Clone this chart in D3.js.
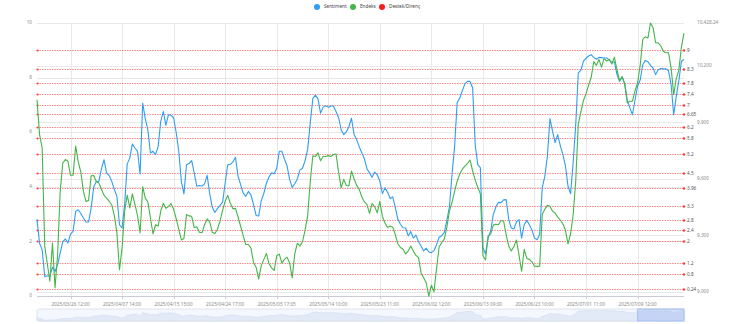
<!DOCTYPE html>
<html>
<head>
<meta charset="utf-8">
<script src="https://cdn.jsdelivr.net/npm/d3@7"></script>
<style>
  html, body { margin: 0; padding: 0; background: #ffffff; }
  svg { display: block; font-family: "Noto Sans", "DejaVu Sans", sans-serif; }
</style>
</head>
<body>
<svg id="chart" width="735" height="324"></svg>
<script>
// Sentiment score (left axis, 0–10), one value per bar of the category axis
const sentiment = [
  2.80,1.93,1.70,0.72,0.73,0.74,1.05,0.90,1.15,1.58,1.98,2.09,1.94,2.27,2.37,3.10,3.16,3.02,2.86,2.71,
  2.71,3.22,3.99,4.19,4.20,4.66,4.99,4.51,4.41,4.20,3.90,3.65,2.61,2.49,3.35,4.84,5.05,5.57,5.42,5.30,
  4.47,7.07,6.50,6.09,5.24,5.30,5.18,5.48,6.40,6.76,6.25,6.64,6.62,6.53,5.99,5.30,4.20,3.74,4.81,4.85,
  4.96,4.51,4.02,4.05,4.03,4.11,4.42,3.75,3.25,3.06,3.20,3.32,3.44,4.14,4.81,4.82,4.91,5.08,4.38,4.08,
  3.77,3.65,3.83,3.70,3.35,2.95,2.93,3.49,3.76,4.13,4.36,4.51,4.48,4.68,5.30,5.30,5.01,4.77,4.27,3.98,
  4.11,4.29,4.62,4.68,4.96,5.37,6.34,7.23,7.36,7.22,6.70,6.91,6.97,6.91,6.96,6.96,6.76,6.53,6.09,5.91,
  6.01,6.20,6.51,5.92,5.73,5.47,5.25,5.03,4.66,4.51,4.35,4.54,4.44,4.21,3.75,3.96,3.80,3.57,3.63,3.25,
  2.81,2.63,2.50,2.49,2.20,2.36,2.12,2.23,1.99,1.83,1.65,1.75,1.61,1.59,1.66,1.88,2.15,2.21,2.33,2.77,
  3.27,4.44,5.48,7.09,7.25,7.52,7.77,7.86,7.86,7.62,5.54,4.80,4.70,1.78,1.54,2.12,2.38,2.98,3.26,3.43,
  3.42,3.52,3.53,2.81,2.49,2.45,2.72,2.80,2.12,2.61,2.77,2.61,2.42,2.12,2.06,2.25,3.96,4.38,5.12,6.50,
  6.04,5.62,5.91,5.51,5.19,4.77,4.02,3.75,4.90,6.28,8.17,8.27,8.60,8.71,8.79,8.84,8.74,8.67,8.74,8.73,
  8.72,8.72,8.64,8.56,8.58,8.11,7.86,8.03,7.77,7.16,6.89,6.64,7.18,7.69,7.91,8.47,8.63,8.58,8.45,8.35,
  8.11,8.29,8.33,8.32,8.32,8.25,7.74,6.64,7.31,7.89,8.60,8.66
];

// Index level (right axis)
const endeks = [
  10021,9836,9765,9243,9149,9057,9260,9022,9198,9534,9685,9703,9694,9620,9620,9775,9691,9637,9534,9481,
  9485,9617,9618,9587,9578,9545,9513,9498,9482,9462,9405,9314,9118,9234,9429,9514,9446,9521,9465,9405,
  9313,9559,9498,9478,9394,9308,9357,9350,9429,9471,9444,9453,9469,9439,9389,9334,9276,9284,9411,9404,
  9402,9342,9346,9317,9314,9357,9388,9372,9317,9310,9333,9376,9433,9482,9513,9471,9442,9444,9398,9349,
  9298,9252,9252,9233,9157,9131,9069,9140,9173,9204,9150,9128,9115,9192,9201,9153,9173,9185,9154,9075,
  9202,9259,9244,9268,9328,9404,9585,9723,9719,9739,9697,9719,9719,9724,9719,9730,9733,9636,9553,9598,
  9565,9563,9642,9601,9566,9545,9505,9478,9465,9417,9469,9453,9420,9481,9401,9366,9342,9350,9344,9305,
  9255,9236,9227,9202,9217,9244,9217,9194,9182,9101,9075,9049,8978.6,9036,9001,9124,9239,9262,9281,9344,
  9429,9475,9534,9588,9627,9652,9668,9682,9701,9643,9594,9555,9521,9192,9170,9298,9307,9355,9360,9357,
  9378,9378,9305,9244,9218,9241,9276,9194,9110,9226,9178,9173,9160,9137,9136,9137,9411,9439,9460,9455,
  9429,9418,9398,9382,9362,9328,9255,9308,9410,9591,9893,9956,10017,10053,10098,10140,10223,10203,10235,10194,
  10239,10226,10236,10210,10246,10180,10122,10142,10106,10004,10013,10013,10068,10111,10204,10341,10355,10348,10428.24,10404,
  10323,10323,10306,10278,10270,10270,10190,10048,10133,10178,10301,10375
];

// Support / resistance levels on the sentiment scale
const levels = [9, 8.3, 7.8, 7.4, 7, 6.65, 6.2, 5.8, 5.2, 4.5, 3.96, 3.3, 2.8, 2.4, 2, 1.2, 0.8, 0.24];

// Category-axis labels and the category index each one sits on
const xTickIndex = [13, 33, 53, 73, 93, 113, 133, 153, 173, 193, 213, 233];
const xTickLabels = [
  "2025/03/26 12:00", "2025/04/07 14:00", "2025/04/15 15:00", "2025/04/24 17:00",
  "2025/05/05 17:05", "2025/05/14 10:00", "2025/05/23 11:00", "2025/06/02 12:00",
  "2025/06/13 09:00", "2025/06/23 10:00", "2025/07/01 11:00", "2025/07/09 12:00"
];
const leftTicks = [0, 2, 4, 6, 8, 10];
const rightTicks = [9000, 9300, 9600, 9900, 10200];

const legendItems = [
  { name: "Sentiment", color: "#2f9ef0" },
  { name: "Endeks", color: "#44b549" },
  { name: "Destek/Direnç", color: "#ff1a1a" }
];

const plot = { left: 37, right: 684, top: 23, bottom: 296 };
const svg = d3.select("#chart");

const x = d3.scaleLinear().domain([0, sentiment.length - 1]).range([plot.left, plot.right]);
const yL = d3.scaleLinear().domain([0, 10]).range([plot.bottom, plot.top]);
const yR = d3.scaleLinear().domain(d3.extent(endeks)).range([plot.bottom, plot.top]);
const snap = v => Math.round(v) + 0.5;

const gridColor = "#e8e8e8";
const labelColor = "#8c8c8c";
const fs = 4.7;

// horizontal split lines of both value axes
const grid = svg.append("g");
grid.selectAll("line.gl").data(leftTicks).join("line")
  .attr("x1", plot.left).attr("x2", plot.right)
  .attr("y1", d => snap(yL(d))).attr("y2", d => snap(yL(d)))
  .attr("stroke", gridColor).attr("stroke-width", 1);
grid.selectAll("line.gr").data(rightTicks.concat([yR.domain()[1]])).join("line")
  .attr("x1", plot.left).attr("x2", plot.right)
  .attr("y1", d => snap(yR(d))).attr("y2", d => snap(yR(d)))
  .attr("stroke", gridColor).attr("stroke-width", 1);
// vertical split lines at category labels
grid.selectAll("line.gx").data(xTickIndex).join("line")
  .attr("x1", d => snap(x(d))).attr("x2", d => snap(x(d)))
  .attr("y1", plot.top).attr("y2", plot.bottom)
  .attr("stroke", gridColor).attr("stroke-width", 1);

// left axis labels
svg.append("g").selectAll("text").data(leftTicks).join("text")
  .attr("x", plot.left - 5).attr("y", d => yL(d))
  .attr("text-anchor", "end").attr("dominant-baseline", "middle")
  .attr("font-size", fs).attr("fill", labelColor).text(d => d);

// right axis labels
const fmt = d3.format(",");
svg.append("g").selectAll("text").data(rightTicks.concat([yR.domain()[1]])).join("text")
  .attr("x", plot.right + 13).attr("y", d => yR(d))
  .attr("text-anchor", "start").attr("dominant-baseline", "middle")
  .attr("font-size", fs).attr("fill", labelColor)
  .text(d => d === yR.domain()[1] ? d3.format(",.2f")(d) : fmt(d));

// x axis line, ticks and labels
svg.append("line")
  .attr("x1", plot.left).attr("x2", plot.right)
  .attr("y1", plot.bottom + 0.5).attr("y2", plot.bottom + 0.5)
  .attr("stroke", "#c9ccd4").attr("stroke-width", 1);
svg.append("g").selectAll("line").data(xTickIndex).join("line")
  .attr("x1", d => snap(x(d))).attr("x2", d => snap(x(d)))
  .attr("y1", plot.bottom).attr("y2", plot.bottom + 3)
  .attr("stroke", "#c9ccd4");
svg.append("g").selectAll("text").data(xTickIndex).join("text")
  .attr("x", d => x(d)).attr("y", plot.bottom + 6)
  .attr("text-anchor", "middle").attr("dominant-baseline", "hanging")
  .attr("font-size", fs).attr("fill", labelColor)
  .text((d, i) => xTickLabels[i]);

// support / resistance mark lines
const red = "#ff3b3b";
const ml = svg.append("g");
ml.selectAll("line").data(levels).join("line")
  .attr("x1", plot.left).attr("x2", plot.right)
  .attr("y1", d => snap(yL(d))).attr("y2", d => snap(yL(d)))
  .attr("stroke", red).attr("stroke-opacity", 0.6)
  .attr("stroke-width", 1).attr("stroke-dasharray", "1.5,1");
ml.selectAll("circle.l").data(levels).join("circle")
  .attr("cx", plot.left + 0.5).attr("cy", d => snap(yL(d))).attr("r", 1.1).attr("fill", red);
ml.selectAll("circle.r").data(levels).join("circle")
  .attr("cx", plot.right).attr("cy", d => snap(yL(d))).attr("r", 1.2).attr("fill", red);
ml.selectAll("text").data(levels).join("text")
  .attr("x", plot.right + 3).attr("y", d => snap(yL(d)))
  .attr("dominant-baseline", "middle").attr("font-size", fs)
  .attr("fill", "#555").text(d => d);

// series lines
const lineL = d3.line().x((d, i) => x(i)).y(d => yL(d));
const lineR = d3.line().x((d, i) => x(i)).y(d => yR(d));
svg.append("path").datum(sentiment).attr("d", lineL)
  .attr("fill", "none").attr("stroke", legendItems[0].color).attr("stroke-width", 1.1)
  .attr("stroke-linejoin", "round");
svg.append("path").datum(endeks).attr("d", lineR)
  .attr("fill", "none").attr("stroke", legendItems[1].color).attr("stroke-width", 1.1)
  .attr("stroke-linejoin", "round");

// legend
const lg = svg.append("g");
const legendX = [317, 353, 382];
legendItems.forEach((it, i) => {
  lg.append("circle").attr("cx", legendX[i]).attr("cy", 7).attr("r", 3).attr("fill", it.color);
  lg.append("text").attr("x", legendX[i] + 7).attr("y", 7)
    .attr("dominant-baseline", "middle").attr("font-size", fs).attr("fill", "#444").text(it.name);
});

// data-zoom slider with data shadow
const sz = { top: 309, bottom: 321 };
const xs = d3.scaleLinear().domain([0, sentiment.length - 1]).range([plot.left, plot.right]);
const ys = d3.scaleLinear().domain([0, 10]).range([sz.bottom, sz.top]);
const slider = svg.append("g");
slider.append("rect").attr("x", plot.left).attr("y", sz.top)
  .attr("width", plot.right - plot.left).attr("height", sz.bottom - sz.top)
  .attr("fill", "#f4f7fd").attr("stroke", "#dde3f0").attr("rx", 2);
const area = d3.area().x((d, i) => xs(i)).y0(sz.bottom).y1(d => ys(d));
slider.append("path").datum(sentiment).attr("d", area)
  .attr("fill", "#e2e9f7").attr("stroke", "#d0dbef").attr("stroke-width", 0.6);
const selStart = 233;
slider.append("rect").attr("x", xs(selStart)).attr("y", sz.top)
  .attr("width", plot.right - xs(selStart)).attr("height", sz.bottom - sz.top)
  .attr("fill", "#8fb0f0").attr("fill-opacity", 0.35).attr("stroke", "#a9c0ee");
</script>
</body>
</html>
